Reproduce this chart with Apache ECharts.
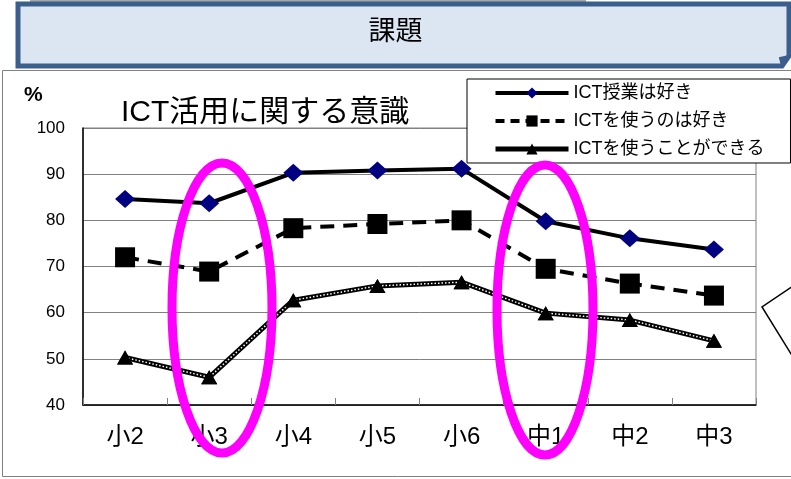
<!DOCTYPE html>
<html><head><meta charset="utf-8">
<script src="https://cdn.jsdelivr.net/npm/echarts@6/dist/echarts.min.js"></script>
<style>html,body{margin:0;padding:0;background:#fff}#c{width:791px;height:479px}</style>
</head><body><div id="c"></div>
<script>
const categories = ['小2','小3','小4','小5','小6','中1','中2','中3'];
const likeClass = [84.6, 83.7, 90.3, 90.8, 91.2, 79.8, 76.1, 73.7];
const likeUse = [72.0, 68.9, 78.3, 79.2, 80.0, 69.5, 66.3, 63.7];
const canUse = [50.3, 46.0, 62.7, 65.8, 66.6, 59.9, 58.4, 53.9];
const seriesNames = ['ICT授業は好き', 'ICTを使うのは好き', 'ICTを使うことができる'];
const yTicks = {min: 40, max: 100, interval: 10};
const titleText = 'ICT活用に関する意識';
const bannerText = '課題';

const FONT = '"Liberation Sans", "Noto Sans CJK JP", sans-serif';
const legendLines = [
  {width: 4, type: 'solid'},
  {width: 4, type: [9, 6]},
  {width: 5, type: 'solid'}
];
const chart = echarts.init(document.getElementById('c'), null, {renderer: 'canvas'});
chart.setOption({
  backgroundColor: '#ffffff',
  animation: false,
  textStyle: {fontFamily: FONT, color: '#000'},
  title: {text: titleText, left: 116, top: 93,
    textStyle: {fontFamily: FONT, fontSize: 30, fontWeight: 'normal', color: '#000'}},
  grid: {left: 83, right: 35, top: 128, bottom: 74, show: true, borderColor: '#808080', borderWidth: 1, backgroundColor: 'transparent'},
  legend: {
    data: seriesNames.map((n, i) => ({name: n, lineStyle: Object.assign({color: '#000'}, legendLines[i])})),
    orient: 'vertical', left: 467, top: 79,
    padding: [5, 26, 5, 26], itemGap: 10, itemWidth: 73, itemHeight: 14,
    backgroundColor: '#fff', borderColor: '#000', borderWidth: 1,
    textStyle: {fontFamily: FONT, fontSize: 18, color: '#000'},
    z: 10
  },
  xAxis: {
    type: 'category', data: categories, boundaryGap: true,
    axisLine: {lineStyle: {color: '#000', width: 1.5}},
    axisTick: {show: true, inside: true, length: 7, interval: 0, lineStyle: {color: '#808080'}},
    axisLabel: {fontFamily: FONT, fontSize: 24, color: '#000', margin: 20, interval: 0},
    splitLine: {show: false}
  },
  yAxis: {
    type: 'value', min: yTicks.min, max: yTicks.max, interval: yTicks.interval,
    axisLine: {show: true, lineStyle: {color: '#000', width: 1.5}},
    axisTick: {show: false},
    axisLabel: {fontFamily: FONT, fontSize: 17, color: '#000', margin: 18},
    splitLine: {show: true, lineStyle: {color: '#808080', width: 1}}
  },
  series: [
    {name: seriesNames[0], type: 'line', data: likeClass, z: 5,
      lineStyle: {color: '#000', width: 4}, symbol: 'diamond', symbolSize: [20, 18],
      itemStyle: {color: '#000080', borderWidth: 0}},
    {name: seriesNames[1], type: 'line', data: likeUse, z: 5,
      lineStyle: {color: '#000', width: 4, type: [14, 9]}, symbol: 'rect', symbolSize: 20,
      itemStyle: {color: '#000', borderWidth: 0}},
    {name: seriesNames[2], type: 'line', data: canUse, z: 3,
      lineStyle: {color: '#000', width: 5}, symbol: 'triangle', symbolSize: [16, 14],
      itemStyle: {color: '#000', borderWidth: 0}},
    {name: 'overlay', type: 'line', data: canUse, z: 4, silent: true,
      lineStyle: {color: '#fff', width: 1.5, type: [1.5, 2]}, symbol: 'none'},
    {name: 'marks', type: 'line', data: canUse, z: 5, silent: true,
      lineStyle: {opacity: 0}, symbol: 'triangle', symbolSize: [16, 14],
      itemStyle: {color: '#000', borderWidth: 0}}
  ],
  graphic: [
    {type: 'line', shape: {x1: 30, y1: 1, x2: 586, y2: 1}, style: {stroke: '#a6a6a6', lineWidth: 3}, z: 1},
    {type: 'polygon', shape: {points: [[18, 4], [789, 4], [789, 56], [782, 66], [18, 66]]},
      style: {fill: '#dce6f2', stroke: '#3b5f8d', lineWidth: 5}, z: 1},
    {type: 'polygon', shape: {points: [[789, 56], [782, 66], [780, 58]]},
      style: {fill: '#3b5f8d', stroke: '#3b5f8d', lineWidth: 2}, z: 2},
    {type: 'text', left: 'center', top: 16, style: {text: bannerText, font: '27px "Noto Sans CJK JP"', fill: '#000'}, z: 3},
    {type: 'rect', shape: {x: 2.5, y: 70.5, width: 800, height: 406}, style: {fill: 'none', stroke: '#808080', lineWidth: 1}, z: 1},
    {type: 'text', x: 24, y: 85, style: {text: '%', font: 'bold 21px "Liberation Sans"', fill: '#000'}, z: 3},
    {type: 'ellipse', shape: {cx: 222, cy: 308, rx: 50, ry: 145}, style: {fill: 'none', stroke: '#ff00ff', lineWidth: 9}, z: 20},
    {type: 'ellipse', shape: {cx: 545, cy: 310, rx: 48, ry: 145}, style: {fill: 'none', stroke: '#ff00ff', lineWidth: 9}, z: 20},
    {type: 'polygon', shape: {points: [[796, 284], [762, 307], [796, 362]]}, style: {fill: '#fff', stroke: '#000', lineWidth: 1.5}, z: 20}
  ]
});
</script></body></html>
